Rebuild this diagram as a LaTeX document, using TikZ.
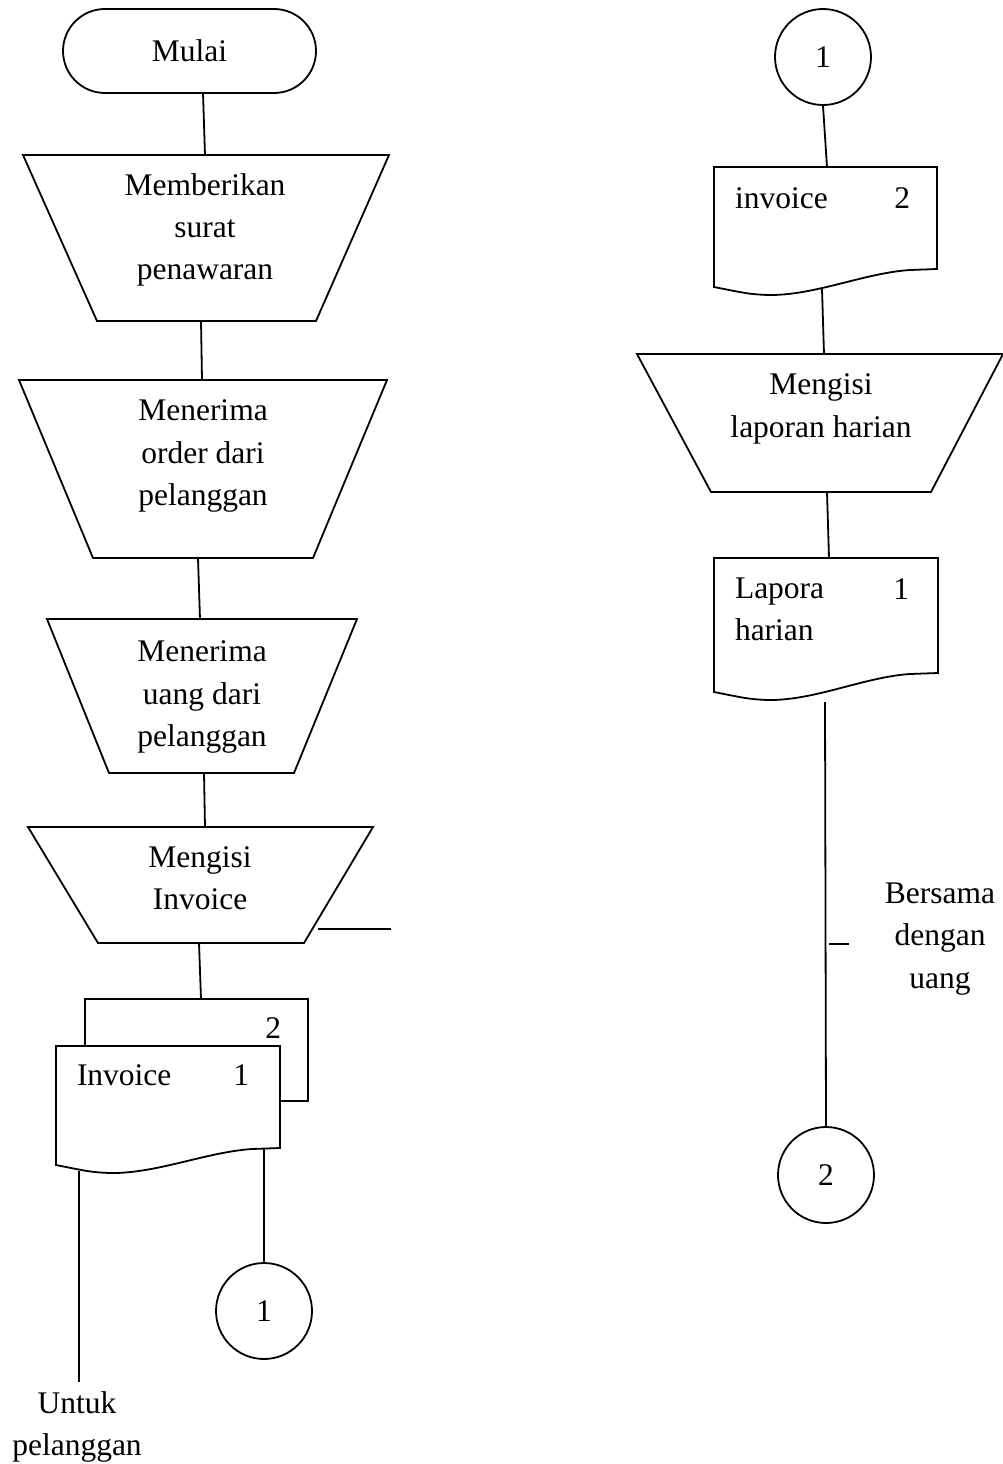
\documentclass[tikz,border=0pt]{standalone}
\usepackage{fontspec}
\setmainfont{Liberation Serif}
\usetikzlibrary{calc}

\tikzset{
  outline/.style={draw=black, line width=1.8pt, line join=miter},
  conn/.style={draw=black, line width=1.8pt},
  txt/.style={font=\fontsize{31.5}{42.3}\selectfont, inner sep=0pt, outer sep=0pt, align=center},
  ltxt/.style={font=\fontsize{31.5}{42.3}\selectfont, inner sep=0pt, outer sep=0pt, align=left},
  terminal/.style={outline, rounded corners=42pt, minimum width=253pt, minimum height=84pt,
                   inner sep=0pt, font=\fontsize{31.5}{42.3}\selectfont},
  onpage/.style={outline, circle, minimum size=96pt, inner sep=0pt,
                 font=\fontsize{31.5}{42.3}\selectfont}
}

% manual operation (inverted trapezoid): name, top-left x, top-right x, top y,
% bottom-left x, bottom-right x, bottom y
\newcommand\manop[7]{%
  \coordinate (#1-tl) at (#2,#4);
  \coordinate (#1-tr) at (#3,#4);
  \coordinate (#1-bl) at (#5,#7);
  \coordinate (#1-br) at (#6,#7);
  \draw[outline] (#1-tl) -- (#1-tr) -- (#1-br) -- (#1-bl) -- cycle;}

% document symbol with wavy bottom: name, left x, top y, right x,
% right bottom y, left bottom y
\newcommand\docsym[6]{%
  \coordinate (#1-tl) at (#2,#3);
  \coordinate (#1-tr) at (#4,#3);
  \draw[outline] (#2,#6) -- (#1-tl) -- (#1-tr) -- (#4,#5)
    -- ({#2+196},{#5+1})
    .. controls ({#2+150},{#5+4}) and ({#2+100},{#6+9}) .. ({#2+53},{#6+8})
    .. controls ({#2+35},{#6+7}) .. (#2,#6) -- cycle;}

\begin{document}
\begin{tikzpicture}[x=1pt,y=-1pt]
\useasboundingbox (0,0) rectangle (1003,1464);

% ---------------- left column ----------------
\node[terminal] (mulai) at (189.5,51) {Mulai};
\coordinate (mulai-out) at (203,93);

\manop{m1}{23}{389}{155}{97}{316}{321}
\node[txt] (m1) at (205,230) {Memberikan\\surat\\penawaran};
\coordinate (m1-in) at (205,155);
\coordinate (m1-out) at (201,321);

\manop{m2}{19}{387}{380}{93}{313}{558}
\node[txt] (m2) at (203,456) {Menerima\\order dari\\pelanggan};
\coordinate (m2-in) at (202,380);
\coordinate (m2-out) at (198,558);

\manop{m3}{47}{357}{619}{109}{294}{773}
\node[txt] (m3) at (202,697) {Menerima\\uang dari\\pelanggan};
\coordinate (m3-in) at (200,619);
\coordinate (m3-out) at (204,773);

\manop{m4}{28}{373}{827}{98}{304}{943}
\node[txt] (m4) at (200,878) {Mengisi\\Invoice};
\coordinate (m4-in) at (205,827);
\coordinate (m4-out) at (199,943);
\coordinate (side-a) at (318,929);
\coordinate (side-b) at (391,929);

% invoice, copy 2 (behind)
\coordinate (inv-b-a) at (85,1046);
\coordinate (inv-b-tl) at (85,999);
\coordinate (inv-b-tr) at (308,999);
\coordinate (inv-b-br) at (308,1101);
\coordinate (inv-b-e) at (280,1101);
\draw[outline] (inv-b-a) -- (inv-b-tl) -- (inv-b-tr) -- (inv-b-br) -- (inv-b-e);
\node[txt, anchor=base east] (inv-b-no) at (281,1038) {2};
\coordinate (inv-b-in) at (201,999);

% invoice, copy 1 (front)
\docsym{inv-a}{56}{1046}{280}{1148}{1165}
\node[ltxt, anchor=base west] (inv-a-txt) at (77,1085) {Invoice};
\node[txt, anchor=base east] (inv-a-no) at (249,1085) {1};
\coordinate (inv-a-out1) at (79,1171);
\coordinate (inv-a-out2) at (264,1149);

\node[onpage] (con1a) at (264,1311) {1};
\coordinate (cust-end) at (79,1382);
\node[txt] (cust) at (77,1427) {Untuk\\pelanggan};

% ---------------- right column ----------------
\node[onpage] (con1b) at (823,57) {1};

\docsym{inv2}{714}{167}{937}{269}{287}
\node[ltxt, anchor=base west] (inv2-txt) at (735,208) {invoice};
\node[txt, anchor=base east] (inv2-no) at (910,208) {2};
\coordinate (inv2-in) at (827,167);
\coordinate (inv2-out) at (822,289);

\manop{m5}{637}{1003}{354}{711}{931}{492}
\node[txt] (m5) at (821,409) {Mengisi\\laporan harian};
\coordinate (m5-in) at (824,354);
\coordinate (m5-out) at (827,492);

\docsym{lap}{714}{558}{938}{673}{692}
\node[ltxt, anchor=north west] (lap-txt) at (735,578) {Lapora\\harian};
\node[txt, anchor=base east] (lap-no) at (909,599) {1};
\coordinate (lap-in) at (829,558);
\coordinate (lap-out) at (825,702);

\node[onpage] (con2) at (826,1175) {2};
\coordinate (tick-a) at (829,944);
\coordinate (tick-b) at (849,944);
\node[txt] (note) at (940,939) {Bersama\\dengan\\uang};

% ---------------- connectors ----------------
\draw[conn] (mulai-out) -- (m1-in);
\draw[conn] (m1-out) -- (m2-in);
\draw[conn] (m2-out) -- (m3-in);
\draw[conn] (m3-out) -- (m4-in);
\draw[conn] (m4-out) -- (inv-b-in);
\draw[conn] (side-a) -- (side-b);
\draw[conn] (inv-a-out1) -- (cust-end);
\draw[conn] (inv-a-out2) -- (con1a.north);
\draw[conn] (con1b.south) -- (inv2-in);
\draw[conn] (inv2-out) -- (m5-in);
\draw[conn] (m5-out) -- (lap-in);
\draw[conn] (lap-out) -- (con2.north);
\draw[conn] (tick-a) -- (tick-b);
\end{tikzpicture}
\end{document}
